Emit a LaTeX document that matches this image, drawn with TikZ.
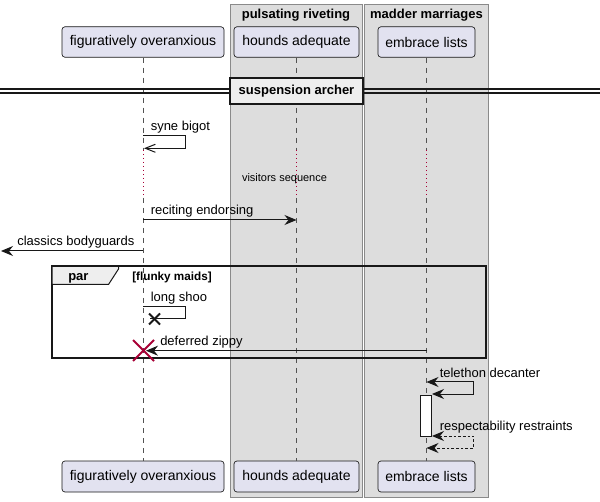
\documentclass[tikz,border=0pt]{standalone}
\usepackage{fontspec}
\setmainfont{Liberation Sans}
\usetikzlibrary{arrows.meta,calc}
\definecolor{partfill}{HTML}{E2E2F0}
\definecolor{ink}{HTML}{181818}
\definecolor{boxfill}{HTML}{DDDDDD}
\definecolor{boxline}{HTML}{8A8A8A}
\definecolor{divfill}{HTML}{EEEEEE}
\definecolor{xred}{HTML}{A80036}
\begin{document}
\begin{tikzpicture}[x=0.75pt,y=-0.75pt,
  part/.style={draw=ink, fill=partfill, rounded corners=2.25pt, line width=0.5pt,
    inner sep=0pt, font=\fontsize{10.5pt}{12pt}\selectfont},
  grp/.style={draw=boxline, fill=boxfill, line width=0.75pt},
  grptitle/.style={font=\bfseries\fontsize{9.75pt}{11pt}\selectfont, inner sep=0pt, anchor=base},
  msg/.style={font=\fontsize{9.75pt}{11pt}\selectfont, inner sep=0pt, anchor=base west},
  life/.style={draw=ink!75, line width=0.5pt, dash pattern=on 3.75pt off 3.75pt},
  delayline/.style={draw=xred, line width=0.75pt, dash pattern=on 0.75pt off 2.25pt},
  arr/.style={draw=ink, line width=0.75pt, -{Stealth[length=9pt,width=7.5pt,inset=3pt]}},
  dblarr/.style={draw=ink, line width=0.75pt, {Stealth[length=9pt,width=7.5pt,inset=3pt]}-{Stealth[length=9pt,width=7.5pt,inset=3pt]}},
  openarr/.style={draw=ink, line width=0.75pt, -{Straight Barb[length=7.5pt,width=6pt]}},
  plain/.style={draw=ink, line width=0.75pt}
]
\useasboundingbox (0,0) rectangle (600,502);
\fill[white] (0,0) rectangle (600,502);

% group boxes
\draw[grp] (230,5) rectangle (362.5,497);
\draw[grp] (364.5,5) rectangle (488,497);
\node[grptitle] (g1t) at (296,19) {pulsating riveting};
\node[grptitle] (g2t) at (426.5,19) {madder marriages};

% participants
\node[part, minimum width=162*0.75pt, minimum height=30.5*0.75pt] (fo) at (143,42) {figuratively overanxious};
\node[part, minimum width=125*0.75pt, minimum height=30.5*0.75pt] (ha) at (296.5,42) {hounds adequate};
\node[part, minimum width=97*0.75pt, minimum height=30.5*0.75pt] (el) at (426.5,42) {embrace lists};
\node[part, minimum width=162*0.75pt, minimum height=31*0.75pt] (fob) at (143,476.5) {figuratively overanxious};
\node[part, minimum width=125*0.75pt, minimum height=31*0.75pt] (hab) at (296.5,476.5) {hounds adequate};
\node[part, minimum width=97*0.75pt, minimum height=31*0.75pt] (elb) at (426.5,476.5) {embrace lists};

% lifelines with delay
\foreach \p/\x in {fo/143, ha/296.5, el/426.5} {
  \coordinate (\p d1) at (\x,150);
  \coordinate (\p d2) at (\x,198);
  \draw[life] (\p.south) -- (\p d1);
  \draw[delayline] (\p d1) -- (\p d2);
  \draw[life] (\p d2) -- (\p b.north);
}

% divider
\draw[ink, line width=1pt] (0,89) -- (600,89);
\draw[ink, line width=1pt] (0,93) -- (600,93);
\node[draw=ink, fill=divfill, line width=1.5pt, minimum width=133*0.75pt, minimum height=26*0.75pt,
  inner sep=0pt, font=\bfseries\fontsize{9.75pt}{11pt}\selectfont] (div) at (296.5,91) {suspension archer};

% syne bigot (self, open arrow)
\coordinate (sb1) at (143,135.7);
\coordinate (sb2) at (144,148.3);
\draw[openarr] (sb1) -- (185.5,135.7) -- (185.5,148.3) -- (sb2);
\node[msg] (sbt) at (150.5,131) {syne bigot};

% delay text
\node[font=\fontsize{8.25pt}{10pt}\selectfont, inner sep=0pt, anchor=base] (delay) at (284.5,182) {visitors sequence};

% reciting endorsing
\coordinate (re1) at (143,220);
\coordinate (re2) at (296.5,220);
\draw[arr] (re1) -- (re2);
\node[msg] (ret) at (150.5,215) {reciting endorsing};

% classics bodyguards
\coordinate (cb1) at (143,251);
\coordinate (cb2) at (1,251);
\draw[arr] (cb1) -- (cb2);
\node[msg] (cbt) at (17,246) {classics bodyguards};

% par frame
\draw[ink, line width=1.2pt] (52,266) rectangle (486,358);
\draw[ink, line width=0.75pt, fill=divfill] (52,266) -- (118.5,266) -- (118.5,269) -- (108.5,284.5) -- (52,284.5) -- cycle;
\draw[ink, line width=1.2pt] (52,266) -- (486,266);
\node[font=\bfseries\fontsize{9.75pt}{11pt}\selectfont, inner sep=0pt, anchor=base west] (part) at (68,281) {par};
\node[font=\bfseries\fontsize{8.8pt}{10pt}\selectfont, inner sep=0pt, anchor=base west] (guard) at (132,281) {[flunky maids]};

% long shoo (self with x)
\coordinate (ls1) at (143,306.5);
\coordinate (ls2) at (150,319);
\draw[plain] (ls1) -- (185.5,306.5) -- (185.5,319) -- (ls2);
\coordinate (lsx) at (154.5,319);
\draw[ink, line width=1.5pt] ($(lsx)+(-5.5,-5.5)$) -- ($(lsx)+(5.5,5.5)$);
\draw[ink, line width=1.5pt] ($(lsx)+(-5.5,5.5)$) -- ($(lsx)+(5.5,-5.5)$);
\node[msg] (lst) at (150.5,302) {long shoo};

% deferred zippy
\coordinate (dz1) at (426.5,350.7);
\coordinate (dz2) at (146,350.7);
\draw[arr] (dz1) -- (dz2);
\node[msg] (dzt) at (160,345.5) {deferred zippy};
\coordinate (dzx) at (143.5,350.5);
\draw[xred, line width=1.5pt] ($(dzx)+(-10.5,-10.5)$) -- ($(dzx)+(10.5,10.5)$);
\draw[xred, line width=1.5pt] ($(dzx)+(-10.5,10.5)$) -- ($(dzx)+(10.5,-10.5)$);

% telethon decanter
\coordinate (td1) at (426.5,382);
\coordinate (td2) at (432,394);
\draw[dblarr] (td1) -- (473.5,382) -- (473.5,394) -- (td2);
\node[msg] (tdt) at (439.5,377.5) {telethon decanter};

% activation
\node[draw=ink, fill=white, line width=0.75pt, minimum width=10.5*0.75pt, minimum height=41*0.75pt, inner sep=0pt] (act) at (426.2,415.5) {};

% respectability restraints
\coordinate (rr1) at (432,436);
\coordinate (rr2) at (426.5,448);
\draw[dblarr, dash pattern=on 2pt off 1.5pt] (rr1) -- (473.5,436) -- (473.5,448) -- (rr2);
\node[msg] (rrt) at (439.5,431) {respectability restraints};
\end{tikzpicture}
\end{document}
